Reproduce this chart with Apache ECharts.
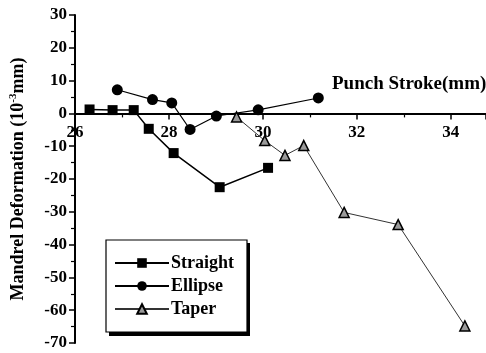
<!DOCTYPE html>
<html>
<head>
<meta charset="utf-8">
<script src="https://cdn.jsdelivr.net/npm/echarts@6/dist/echarts.min.js"></script>
<style>
  html, body { margin: 0; padding: 0; background: #fff; }
  #chart { width: 486px; height: 353px; }
</style>
</head>
<body>
<div id="chart"></div>
<script>
// Punch stroke (mm) vs mandrel deformation (10^-3 mm) for three mandrel shapes
const straightX = [26.31, 26.80, 27.25, 27.57, 28.10, 29.08, 30.11];
const straightY = [1.2, 1.0, 1.0, -4.7, -12.1, -22.5, -16.6];

const ellipseX = [26.90, 27.65, 28.06, 28.45, 29.01, 29.90, 31.18];
const ellipseY = [7.2, 4.2, 3.2, -4.9, -0.8, 1.1, 4.7];

const taperX = [29.44, 30.04, 30.47, 30.87, 31.73, 32.88, 34.30];
const taperY = [-1.1, -8.3, -12.8, -9.8, -30.2, -33.9, -64.8];

const xTicks = [26, 28, 30, 32, 34];
const yTicks = [-70, -60, -50, -40, -30, -20, -10, 0, 10, 20, 30];

const serif = '"Liberation Serif", "Times New Roman", serif';

// plot box geometry (px)
const GRID_LEFT = 65, GRID_TOP = 15, GRID_BOTTOM = 10;
const Y_MIN = -70, Y_MAX = 30;
const plotH = 353 - GRID_TOP - GRID_BOTTOM;
// shift the x axis from the bottom of the plot up to the y = 0 line
const xAxisOffset = -plotH * (0 - Y_MIN) / (Y_MAX - Y_MIN);

function pairs(xs, ys) {
  return xs.map((x, i) => [x, ys[i]]);
}

const chart = echarts.init(document.getElementById('chart'), null, { renderer: 'canvas' });

const LEG = { x: 106, y: 240, w: 141, h: 92 };

chart.setOption({
  animation: false,
  backgroundColor: '#fff',
  grid: { left: GRID_LEFT, right: 0, top: GRID_TOP, bottom: GRID_BOTTOM, containLabel: false },
  xAxis: {
    type: 'value',
    min: 26,
    max: 34.75,
    interval: 2,
    offset: xAxisOffset,
    axisLine: { show: true, onZero: false, lineStyle: { color: '#000', width: 2 } },
    axisTick: { show: true, inside: false, length: 6, lineStyle: { color: '#000', width: 1.5 } },
    minorTick: { show: true, splitNumber: 2, length: 4, lineStyle: { color: '#000', width: 1.2 } },
    splitLine: { show: false },
    axisLabel: {
      color: '#000', fontFamily: serif, fontWeight: 'bold', fontSize: 17, margin: 11,
      showMaxLabel: false,
      formatter: v => (xTicks.indexOf(v) >= 0 ? String(v) : '')
    }
  },
  yAxis: {
    type: 'value',
    min: Y_MIN,
    max: Y_MAX,
    interval: 10,
    name: 'Mandrel Deformation (10{sup|-3}mm)',
    nameLocation: 'middle',
    nameGap: 47,
    nameRotate: 90,
    nameTextStyle: {
      color: '#000', fontFamily: serif, fontWeight: 'bold', fontSize: 18,
      rich: {
        sup: { color: '#000', fontFamily: serif, fontWeight: 'bold', fontSize: 11, verticalAlign: 'top', padding: [0, 0, 9, 0] }
      }
    },
    axisLine: { show: true, onZero: false, lineStyle: { color: '#000', width: 2 } },
    axisTick: { show: true, inside: false, length: 6, lineStyle: { color: '#000', width: 1.5 } },
    minorTick: { show: true, splitNumber: 2, length: 4, lineStyle: { color: '#000', width: 1.2 } },
    splitLine: { show: false },
    axisLabel: {
      color: '#000', fontFamily: serif, fontWeight: 'bold', fontSize: 17, margin: 8,
      formatter: v => (yTicks.indexOf(v) >= 0 ? String(v) : '')
    }
  },
  legend: {
    orient: 'vertical',
    left: LEG.x,
    top: LEG.y,
    padding: [14, 10, 10, 8],
    itemGap: 5,
    itemWidth: 54,
    itemHeight: 12,
    textStyle: { color: '#000', fontFamily: serif, fontWeight: 'bold', fontSize: 18, padding: [0, 0, 0, -3] },
    data: ['Straight', 'Ellipse', 'Taper'],
    z: 10
  },
  graphic: [
    {
      // legend frame drop shadow
      type: 'rect',
      z: 5,
      shape: { x: LEG.x + 3, y: LEG.y + 3, width: LEG.w, height: LEG.h + 1 },
      style: { fill: '#000' }
    },
    {
      // legend frame
      type: 'rect',
      z: 6,
      shape: { x: LEG.x, y: LEG.y, width: LEG.w, height: LEG.h },
      style: { fill: '#fff', stroke: '#000', lineWidth: 1.2 }
    },
    {
      type: 'text',
      left: 332,
      top: 75,
      z: 6,
      style: {
        text: 'Punch Stroke(mm)',
        fill: '#000',
        font: 'bold 19px ' + serif
      }
    }
  ],
  series: [
    {
      name: 'Straight',
      type: 'line',
      data: pairs(straightX, straightY),
      symbol: 'rect',
      symbolSize: 10,
      itemStyle: { color: '#000' },
      lineStyle: { color: '#000', width: 1.5 },
      z: 3
    },
    {
      name: 'Ellipse',
      type: 'line',
      data: pairs(ellipseX, ellipseY),
      symbol: 'circle',
      symbolSize: 11,
      itemStyle: { color: '#000' },
      lineStyle: { color: '#000', width: 1.2 },
      z: 3
    },
    {
      name: 'Taper',
      type: 'line',
      data: pairs(taperX, taperY),
      symbol: 'triangle',
      symbolSize: 10,
      itemStyle: { color: '#9a9a9a', borderColor: '#000', borderWidth: 1.5 },
      lineStyle: { color: '#333', width: 1 },
      z: 3
    }
  ]
});
</script>
</body>
</html>
